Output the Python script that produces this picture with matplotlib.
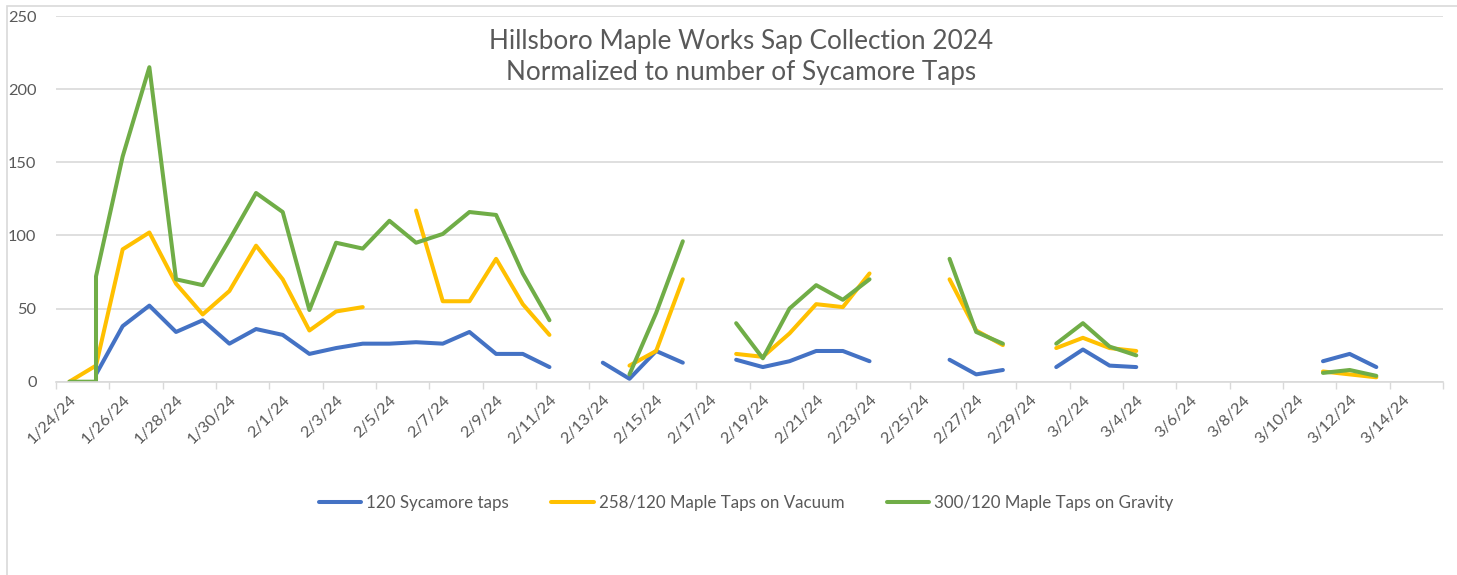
import matplotlib

matplotlib.use("Agg")
import matplotlib.pyplot as plt
import pandas as pd
from matplotlib.patches import Rectangle

# collection dates (1/25 appears twice: two readings logged that day)
dates = [
    "2024-01-24", "2024-01-25", "2024-01-25", "2024-01-26", "2024-01-27",
    "2024-01-28", "2024-01-29", "2024-01-30", "2024-01-31", "2024-02-01",
    "2024-02-02", "2024-02-03", "2024-02-04", "2024-02-05", "2024-02-06",
    "2024-02-07", "2024-02-08", "2024-02-09", "2024-02-10", "2024-02-11",
    "2024-02-12", "2024-02-13", "2024-02-14", "2024-02-15", "2024-02-16",
    "2024-02-17", "2024-02-18", "2024-02-19", "2024-02-20", "2024-02-21",
    "2024-02-22", "2024-02-23", "2024-02-24", "2024-02-25", "2024-02-26",
    "2024-02-27", "2024-02-28", "2024-02-29", "2024-03-01", "2024-03-02",
    "2024-03-03", "2024-03-04", "2024-03-05", "2024-03-06", "2024-03-07",
    "2024-03-08", "2024-03-09", "2024-03-10", "2024-03-11", "2024-03-12",
    "2024-03-13",
]

N = None
sycamore = [
    N, N, 5, 38, 52, 34, 42, 26, 36, 32,
    19, 23, 26, 26, 27, 26, 34, 19, 19, 10,
    N, 13, 2, 21, 13, N, 15, 10, 14, 21,
    21, 14, N, N, 15, 5, 8, N, 10, 22,
    11, 10, N, N, N, N, N, N, 14, 19,
    10,
]
vacuum = [
    0, 11, 11, 90.5, 102, 67, 46, 62, 93, 70,
    35, 48, 51, N, 117, 55, 55, 84, 53, 32,
    N, N, 11, 21, 70, N, 19, 17, 33, 53,
    51, 74, N, N, 70, 35, 25, N, 23, 30,
    23, 21, N, N, N, N, N, N, 7, 5,
    3,
]
gravity = [
    0, 0, 72, 154, 215, 70, 66, 97, 129, 116,
    49, 95, 91, 110, 95, 101, 116, 114, 74, 42,
    N, N, 5, 47, 96, N, 40, 16, 50, 66,
    56, 70, N, N, 84, 34, 26, N, 26, 40,
    24, 18, N, N, N, N, N, N, 6, 8,
    4,
]

series_names = ["120 Sycamore taps", "258/120 Maple Taps on Vacuum", "300/120 Maple Taps on Gravity"]
series_colors = ["#4472C4", "#FFC000", "#70AD47"]

title = "Hillsboro Maple Works Sap Collection 2024\nNormalized to number of Sycamore Taps"

TEXT = "#595959"
GRID = "#d9d9d9"
plt.rcParams["font.family"] = ["Lato", "DejaVu Sans"]

x = pd.to_datetime(pd.Series(dates))
half_day = pd.Timedelta(hours=12)

fig = plt.figure(figsize=(14.57, 5.75), dpi=100)
ax = fig.add_axes([56 / 1457, 1 - 381.7 / 575, 1387 / 1457, 365.7 / 575])

for vals, name, color in zip([sycamore, vacuum, gravity], series_names, series_colors):
    y = pd.Series(vals, dtype="float")
    ax.plot(x, y, color=color, lw=2.9, label=name,
            solid_capstyle="round", solid_joinstyle="round")

# date axis, labels centred in each day slot, tick marks between slots
label_days = pd.date_range("2024-01-24", "2024-03-14", freq="2D")
tick_days = pd.date_range(pd.Timestamp("2024-01-24") - half_day,
                          pd.Timestamp("2024-03-15") + half_day, freq="2D")
ax.set_xlim(tick_days[0], tick_days[-1])
ax.set_xticks(tick_days)
ax.set_xticklabels([])
ax.tick_params(axis="x", which="major", length=5, width=1, color=GRID)
ax.set_xticks(label_days, minor=True)
ax.set_xticklabels([f"{d.month}/{d.day}/{d:%y}" for d in label_days], minor=True,
                   rotation=45, ha="right", va="top", rotation_mode="anchor")
ax.tick_params(axis="x", which="minor", length=0, pad=8, labelsize=11.8, labelcolor=TEXT)

ax.set_ylim(0, 250)
ax.set_yticks(range(0, 251, 50))
ax.tick_params(axis="y", length=0, pad=14, labelsize=11.8, labelcolor=TEXT)
ax.grid(axis="y", color=GRID, lw=1.2)
ax.set_axisbelow(True)
for side in ["left", "right", "top"]:
    ax.spines[side].set_visible(False)
ax.spines["bottom"].set_color(GRID)
ax.spines["bottom"].set_linewidth(1.2)

fig.text(741 / 1457, 1 - 57 / 575, title, ha="center", va="center",
         fontsize=18.8, color=TEXT, linespacing=1.32)

fig.legend(loc="center", bbox_to_anchor=(746 / 1457, 1 - 503 / 575), ncol=3,
           frameon=False, fontsize=12.2, labelcolor=TEXT, handlelength=2.5,
           handletextpad=0.3, columnspacing=2.5)

# light chart-area border
fig.patches.append(Rectangle((7 / 1457, -0.1), 1.2, 1.1 - 6 / 575, transform=fig.transFigure,
                             fill=False, edgecolor=GRID, lw=1.2))

fig.savefig("out.png", dpi=100)
